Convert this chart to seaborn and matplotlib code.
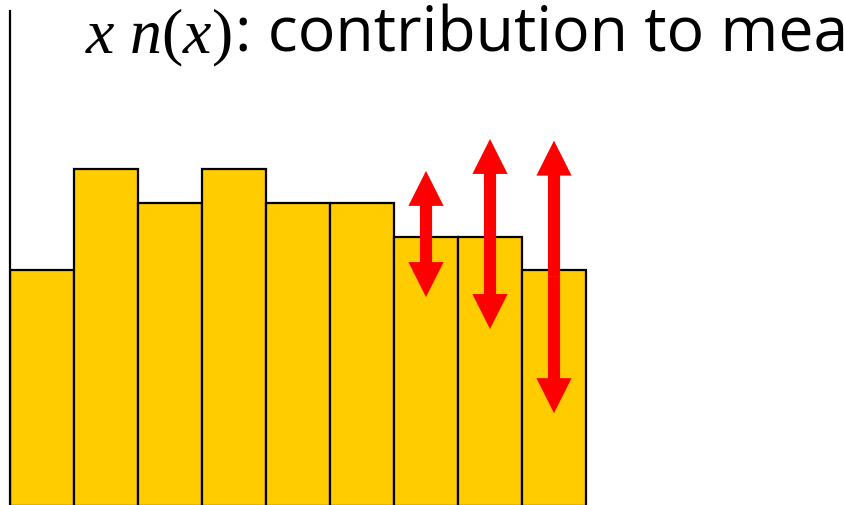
import numpy as np
import pandas as pd
import matplotlib
matplotlib.use('Agg')
import matplotlib.pyplot as plt
import seaborn as sns

# histogram bins (x) and their x*n(x) contribution
bins = ['1', '2', '3', '4', '5', '6', '7', '8', '9']
contrib = [7, 10, 9, 10, 9, 9, 8, 8, 7]

# red error arrows on the last three bins
arrow_bins = [6, 7, 8]
arrow_low = [6.2, 5.25, 2.75]
arrow_high = [9.95, 10.9, 10.85]

title_math = r'$x\ n(x)$'
title_text = ': contribution to mean'

df = pd.DataFrame({'bin': bins, 'contrib': contrib})

sns.set_style('white')
plt.rcParams['mathtext.fontset'] = 'custom'
plt.rcParams['mathtext.it'] = 'Liberation Serif:italic'
plt.rcParams['mathtext.rm'] = 'Liberation Serif'
plt.rcParams['text.color'] = 'black'

fig = plt.figure(figsize=(8.44, 5.06), dpi=100)
ax = fig.add_axes([10 / 844, 0, 834 / 844, 1])

sns.barplot(data=df, x='bin', y='contrib', color='#FFCC00', saturation=1,
            edgecolor='black', linewidth=1.6, width=1, ax=ax)

for xb, lo, hi in zip(arrow_bins, arrow_low, arrow_high):
    mid = (lo + hi) / 2
    for end in (lo, hi):
        ax.arrow(xb, mid, 0, end - mid, width=0.19, head_width=0.55,
                 head_length=1.04, length_includes_head=True,
                 color='#FF0000', lw=0, zorder=5)

ax.set_xlim(-0.5, -0.5 + 834 / 64)
ax.set_ylim(0.02, 506 / 33.6)
ax.set_xlabel('')
ax.set_ylabel('')
ax.set_xticks([])
ax.set_yticks([])
for s in ['top', 'right', 'bottom']:
    ax.spines[s].set_visible(False)
ax.spines['left'].set_color('black')
ax.spines['left'].set_linewidth(1.6)
ax.spines['left'].set_bounds(0, 494 / 33.6)

# title: italic serif math part then sans text
t1 = fig.text(85 / 844, 1 - 53 / 506, title_math, fontsize=46,
              color='black', va='baseline', ha='left')
fig.canvas.draw()
bb = t1.get_window_extent()
fig.text(bb.x1 / 844 + 4 / 844, 1 - 52 / 506, title_text, fontsize=45,
         family='Open Sans', color='black', va='baseline', ha='left')

fig.savefig('out.png', dpi=100)
